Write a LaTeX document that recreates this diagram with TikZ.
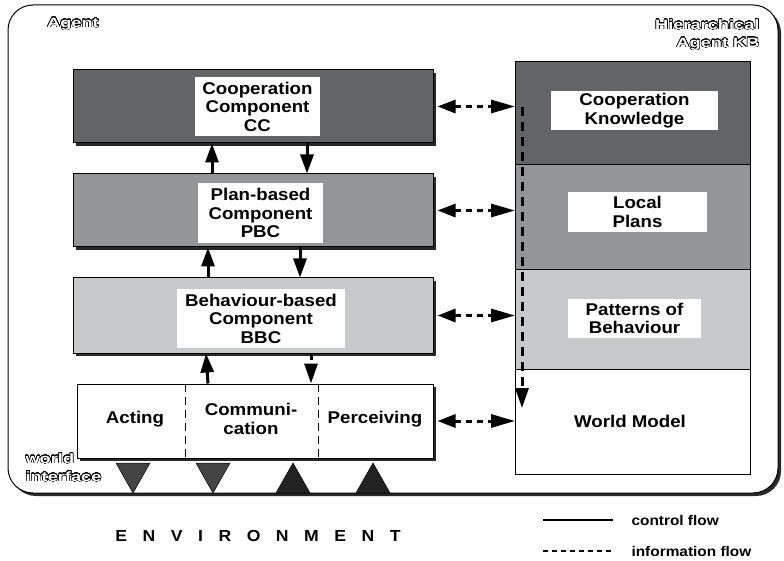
\documentclass[tikz,border=0pt]{standalone}
\usepackage{fontspec}
\setmainfont[FakeStretch=1.1]{Liberation Sans}
\newfontfamily\hollowfont[FakeStretch=1.35]{Liberation Sans}
\usepackage{contour}
\usetikzlibrary{arrows.meta,shadows}
\contournumber{32}
\contourlength{0.4pt}
\newcommand{\hollowtext}[1]{\textcolor{white}{\contour{black}{#1}}}
\definecolor{agentcolor0}{RGB}{99,100,102}
\definecolor{agentcolor1}{RGB}{148,149,151}
\definecolor{agentcolor2}{RGB}{200,201,203}
\definecolor{agentcolor3}{RGB}{68,68,68}
\definecolor{agentcolor4}{RGB}{34,34,34}
\definecolor{agentcolor5}{RGB}{40,40,40}
\begin{document}
\begin{tikzpicture}[x=1pt,y=1pt,yscale=-1
,font=\fontsize{17}{18.5}\selectfont\bfseries
,boxshadow/.style={drop shadow={shadow xshift=3pt,shadow yshift=-3pt,fill=agentcolor5,opacity=1}}
,compbox/.style={draw=black,line width=1pt,minimum width=360pt,minimum height=73pt,boxshadow}
,lblbox/.style={fill=white,inner sep=0pt,align=center}
,kbbox/.style={draw=black,line width=1pt,minimum width=235pt,outer sep=0pt}
,ctrlflow/.style={line width=3pt,-{Triangle[width=13pt,length=19pt]}}
,infoflow/.style={line width=3pt,dash pattern=on 6pt off 5pt,-{Triangle[width=13pt,length=20pt]}}
,bothflow/.style={infoflow,{Triangle[width=13pt,length=18pt]}-{Triangle[width=13pt,length=24pt]}}
,hollow/.style={font=\fontsize{13.5}{18}\selectfont\hollowfont\bfseries}
,legendtext/.style={anchor=west,font=\fontsize{14}{16}\selectfont\bfseries}
,tristyle0/.style={draw=black,fill=agentcolor3,line width=0.5pt}
,tristyle1/.style={draw=black,fill=agentcolor4,line width=0.5pt}
]
\useasboundingbox (0,0) rectangle (784,561);
\node[draw=black,line width=1pt,rounded corners=25pt,minimum width=770pt,minimum height=488pt,boxshadow,fill=white] (agent) at (393,249) {};
\node[hollow] (agentlbl) at (73,24) {\hollowtext{Agent}};
\node[hollow,align=right,anchor=east] (kblbl) at (763,35) {\hollowtext{Hierarchical}\\\hollowtext{Agent KB}};
\node[hollow,align=left,anchor=west] (wilbl) at (22,467.5) {\hollowtext{world}\\\hollowtext{interface}};

\node[compbox,fill=agentcolor0] (cc) at (253,106.5) {};
\node[lblbox,minimum width=125pt,minimum height=59pt] (cclbl) at (257.5,106.5) {Cooperation\\Component\\CC};
\node[compbox,fill=agentcolor1] (pbc) at (253,210.5) {};
\node[lblbox,minimum width=125pt,minimum height=60pt] (pbclbl) at (260.5,213) {Plan-based\\Component\\PBC};
\node[compbox,fill=agentcolor2,minimum height=75pt] (bbc) at (253,315.5) {};
\node[lblbox,minimum width=168pt,minimum height=59pt] (bbclbl) at (261,318.5) {Behaviour-based\\Component\\BBC};
\node[compbox,fill=white,minimum width=356pt,minimum height=74pt] (iface) at (255,421) {};
\node (acting) at (135,419) {Acting};
\node[align=center] (commun) at (251,419) {Communi-\\cation};
\node (perceiv) at (375,419) {Perceiving};
\coordinate (divA) at (185,0);
\coordinate (divB) at (318,0);
\draw[line width=1pt,dash pattern=on 8pt off 5pt] (iface.north -| divA) -- (iface.south -| divA);
\draw[line width=1pt,dash pattern=on 8pt off 5pt] (iface.north -| divB) -- (iface.south -| divB);

\node[kbbox,fill=agentcolor0,minimum height=103pt] (ck) at (632.5,113.5) {};
\node[lblbox,minimum width=167pt,minimum height=39pt] (cklbl) at (634.5,110.5) {Cooperation\\Knowledge};
\node[kbbox,fill=agentcolor1,minimum height=105pt] (lp) at (632.5,217.5) {};
\node[lblbox,minimum width=139pt,minimum height=40pt] (lplbl) at (637.5,212) {Local\\Plans};
\node[kbbox,fill=agentcolor2,minimum height=99pt] (pb) at (632.5,319.5) {};
\node[lblbox,minimum width=133pt,minimum height=39pt] (pblbl) at (634.5,318.5) {Patterns of\\Behaviour};
\node[kbbox,fill=white,minimum height=105pt] (wm) at (632.5,421.5) {};
\node (wmlbl) at (630,421) {World Model};

\draw[ctrlflow] ([xshift=-41pt]pbc.north) -- ([xshift=-41pt]cc.south);
\draw[ctrlflow] ([xshift=54pt]cc.south) -- ([xshift=54pt]pbc.north);
\draw[ctrlflow] ([xshift=-45pt]bbc.north) -- ([xshift=-45pt]pbc.south);
\draw[ctrlflow] ([xshift=47pt]pbc.south) -- ([xshift=47pt]bbc.north);
\draw[ctrlflow] ([xshift=-47pt]iface.north) -- ([xshift=-47pt]bbc.south);
\draw[infoflow] ([xshift=58pt]bbc.south) -- ([xshift=56pt]iface.north);

\draw[bothflow] ([xshift=4pt]cc.east) -- (cc.east -| ck.west);
\draw[bothflow] ([xshift=4pt]pbc.east) -- (pbc.east -| lp.west);
\draw[bothflow] ([xshift=4pt]bbc.east) -- (bbc.east -| pb.west);
\draw[bothflow] ([xshift=4pt]iface.east) -- (iface.east -| wm.west);
\coordinate (kbtop) at (522,107);
\coordinate (kbend) at (522,408);
\draw[infoflow,dash pattern=on 9pt off 6pt] (kbtop) -- (kbend);

\foreach \x in {133,213}
  \draw[tristyle0] (\x-17,463) -- (\x+17,463) -- (\x,493) -- cycle;
\foreach \x in {293,373}
  \draw[tristyle1] (\x-17,493) -- (\x+17,493) -- (\x,463) -- cycle;

\node[font=\fontsize{16}{18}\selectfont\bfseries] (env) at (258,536) {\addfontfeature{LetterSpace=97}ENVIRONMENT};
\node[legendtext] (ctrltxt) at (628,520) {control flow};
\node[legendtext] (infotxt) at (628,551) {information flow};
\coordinate (ctrlA) at (543,520);
\coordinate (infoA) at (543,551);
\draw[line width=2.5pt] (ctrlA) -- ([xshift=-15pt]ctrltxt.west);
\draw[line width=2.5pt,dash pattern=on 5pt off 4pt] (infoA) -- ([xshift=-15pt]infotxt.west);
\end{tikzpicture}
\end{document}
